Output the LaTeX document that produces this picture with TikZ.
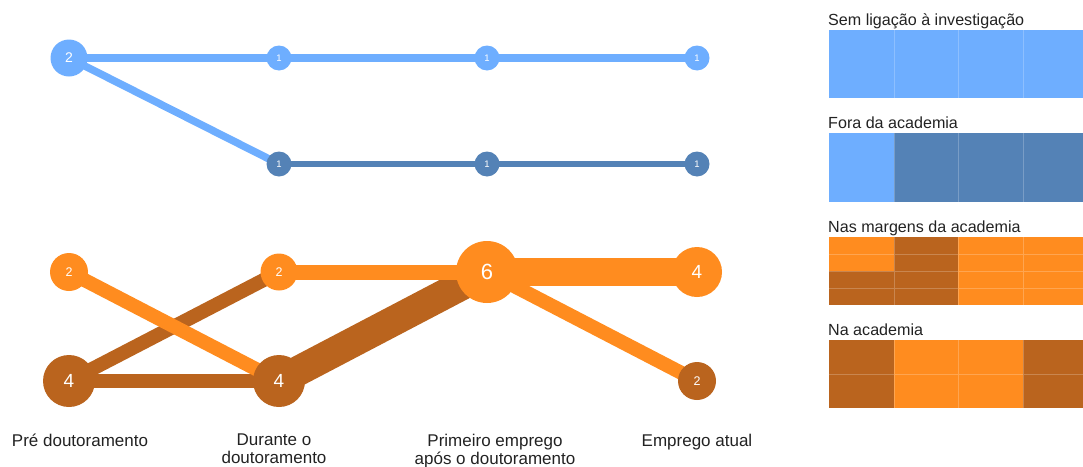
\documentclass[tikz,border=0pt]{standalone}
\usepackage{fontspec}
\setmainfont{Liberation Sans}
\usetikzlibrary{backgrounds}
\definecolor{lb}{HTML}{6EAEFF}
\definecolor{db}{HTML}{5482B6}
\definecolor{og}{HTML}{FF8C1F}
\definecolor{br}{HTML}{BA641E}
\definecolor{txt}{HTML}{222222}
\newcommand{\myfs}[1]{\fontsize{#1}{#1}\selectfont}
\begin{document}
\begin{tikzpicture}[x=1pt,y=-1pt,
  dot/.style={circle,inner sep=0pt,text=white},
  flow/.style={line width=#1},
  cell/.style={draw=white,draw opacity=0.22,line width=0.8pt},
  ttl/.style={anchor=base west,inner sep=0pt,text=txt,font=\myfs{16.1}},
  lbl/.style={anchor=north,inner sep=0pt,align=center,text=txt,font=\fontsize{17}{18}\selectfont}
]
\useasboundingbox (0,0) rectangle (1083,466);

% ---------- blue group ----------
\node[dot,fill=lb,minimum size=37pt,font=\myfs{14}] (p1) at (69,58) {2};
\node[dot,fill=lb,minimum size=25pt,font=\myfs{9.5}] (d1) at (279,58) {1};
\node[dot,fill=lb,minimum size=25pt,font=\myfs{9.5}] (f1) at (487,58) {1};
\node[dot,fill=lb,minimum size=25pt,font=\myfs{9.5}] (a1) at (697,58) {1};
\node[dot,fill=db,minimum size=25pt,font=\myfs{9.5}] (d2) at (279,164) {1};
\node[dot,fill=db,minimum size=25pt,font=\myfs{9.5}] (f2) at (487,164) {1};
\node[dot,fill=db,minimum size=25pt,font=\myfs{9.5}] (a2) at (697,164) {1};

% ---------- orange group ----------
\node[dot,fill=og,minimum size=38pt,font=\myfs{12.5}] (p3) at (69,272) {2};
\node[dot,fill=br,minimum size=52pt,font=\myfs{19}] (p4) at (69,381) {4};
\node[dot,fill=og,minimum size=37pt,font=\myfs{12.5}] (d3) at (279,272) {2};
\node[dot,fill=br,minimum size=52pt,font=\myfs{19}] (d4) at (279,381) {4};
\node[dot,fill=og,minimum size=62pt,font=\myfs{22}] (f3) at (487,272) {6};
\node[dot,fill=og,minimum size=50pt,font=\myfs{19}] (a3) at (697,272) {4};
\node[dot,fill=br,minimum size=38pt,font=\myfs{12.5}] (a4) at (697,381) {2};

\begin{pgfonlayer}{background}
  \draw[lb,flow=7.5pt] (p1.center) -- (d1.center) -- (f1.center) -- (a1.center);
  \draw[lb,flow=7.5pt] (p1.center) -- (d2.center);
  \draw[db,flow=6.5pt] (d2.center) -- (f2.center) -- (a2.center);
  \draw[br,flow=14pt] (p4.center) -- (d3.center);
  \draw[br,flow=14pt] (p4.center) -- (d4.center);
  \draw[br,flow=30pt] (d4.center) -- (f3.center);
  \draw[og,flow=14pt] (p3.center) -- (d4.center);
  \draw[og,flow=15pt] (d3.center) -- (f3.center);
  \draw[og,flow=28pt] (f3.center) -- (a3.center);
  \draw[og,flow=14pt] (f3.center) -- (a4.center);
\end{pgfonlayer}

% ---------- axis labels ----------
\node[lbl] (l1) at (80,433.8) {Pré doutoramento};
\node[lbl] (l2) at (274,433.8) {Durante o\\doutoramento};
\node[lbl] (l3) at (495,433.8) {Primeiro emprego\\após o doutoramento};
\node[lbl] (l4) at (697,433.8) {Emprego atual};

% ---------- right panels ----------
\node[ttl] (t1) at (828,25) {Sem ligação à investigação};
\fill[lb] (829,30) rectangle (1083,98);
\draw[cell] (894,30) -- (894,98) (958,30) -- (958,98) (1023,30) -- (1023,98);

\node[ttl] (t2) at (828,128) {Fora da academia};
\fill[lb] (829,133) rectangle (894,202);
\fill[db] (894,133) rectangle (1083,202);
\draw[cell] (894,133) -- (894,202) (958,133) -- (958,202) (1023,133) -- (1023,202);

\node[ttl] (t3) at (828,232) {Nas margens da academia};
\fill[og] (829,237) rectangle (1083,305);
\fill[br] (894,237) rectangle (958,305);
\fill[br] (829,271) rectangle (894,305);
\draw[cell] (894,237) -- (894,305) (958,237) -- (958,305) (1023,237) -- (1023,305)
  (829,254) -- (1083,254) (829,271) -- (1083,271) (829,288) -- (1083,288);

\node[ttl] (t4) at (828,335) {Na academia};
\fill[br] (829,340) rectangle (894,408);
\fill[og] (894,340) rectangle (1023,408);
\fill[br] (1023,340) rectangle (1083,408);
\draw[cell] (894,340) -- (894,408) (958,340) -- (958,408) (1023,340) -- (1023,408)
  (829,374) -- (1083,374);
\end{tikzpicture}
\end{document}
